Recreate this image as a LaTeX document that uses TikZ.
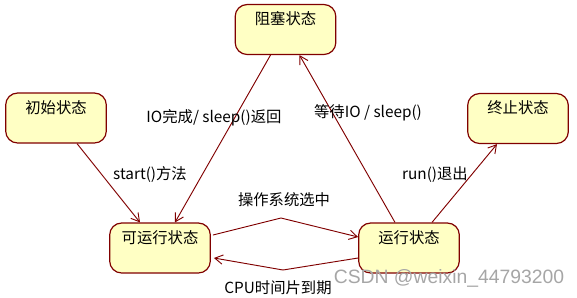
\documentclass[tikz,border=0pt]{standalone}
\usepackage{fontspec}
\setmainfont{Noto Sans CJK SC}
\newfontfamily\markfont{Liberation Sans}
\usetikzlibrary{arrows.meta,calc}

\definecolor{boxfill}{RGB}{255,255,196}
\definecolor{boxline}{RGB}{128,0,0}

\tikzset{
  statebox/.style={draw=boxline, fill=boxfill, line width=0.9pt,
    rounded corners=9pt, inner sep=0pt,
    minimum width=75.5pt, minimum height=37.5pt,
    text height=15pt, text depth=22.5pt, font=\fontsize{11.5}{13}\selectfont},
  trans/.style={draw=boxline, line width=0.7pt,
    -{Straight Barb[length=6pt,width=7pt,line width=0.7pt]}},
  translabel/.style={inner sep=0pt, font=\fontsize{11.5}{13}\selectfont}
}

\begin{document}
\begin{tikzpicture}[x=0.75pt, y=-0.75pt]
  \useasboundingbox (0,0) rectangle (577,297);

  % states
  \node[statebox] (blocked) at (285.5,29.5) {阻塞状态};
  \node[statebox] (init) at (56,118) {初始状态};
  \node[statebox] (dead) at (518,118.5) {终止状态};
  \node[statebox] (ready) at (160,248) {可运行状态};
  \node[statebox] (running) at (409,248) {运行状态};

  % bends of the two lower transitions
  \coordinate (selpeak) at (281,218);
  \coordinate (cpudip) at (283,270);

  % transitions
  \draw[trans] ($(init.south)+(21,0)$) -- ($(ready.north)+(-20,0)$);
  \draw[trans] ($(blocked.south)+(-15,0)$) -- ($(ready.north)+(15,0)$);
  \draw[trans] ($(running.north)+(-14,0)$) -- ($(blocked.south)+(14,0)$);
  \draw[trans] ($(running.north)+(23,0)$) -- ($(dead.south)+(-21,0)$);
  \draw[trans] ($(ready.east)+(2,-13)$) -- (selpeak) -- ($(running.west)+(0,-11)$);
  \draw[trans] ($(running.west)+(0,10)$) -- (cpudip) -- ($(ready.east)+(3,10)$);

  % labels
  \node[translabel] (lstart) at (150,175) {start()方法};
  \node[translabel] (lio) at (214,118) {IO完成/ sleep()返回};
  \node[translabel] (lwait) at (368,113) {等待IO / sleep()};
  \node[translabel] (lrun) at (435,175) {run()退出};
  \node[translabel] (lsel) at (284,200) {操作系统选中};
  \node[translabel] (lcpu) at (278,288) {CPU时间片到期};

  % watermark
  \node[inner sep=0pt, text=black!35, font=\markfont\fontsize{14.5}{16}\selectfont]
    (mark) at (449,278) {CSDN @weixin\_44793200};
\end{tikzpicture}
\end{document}
